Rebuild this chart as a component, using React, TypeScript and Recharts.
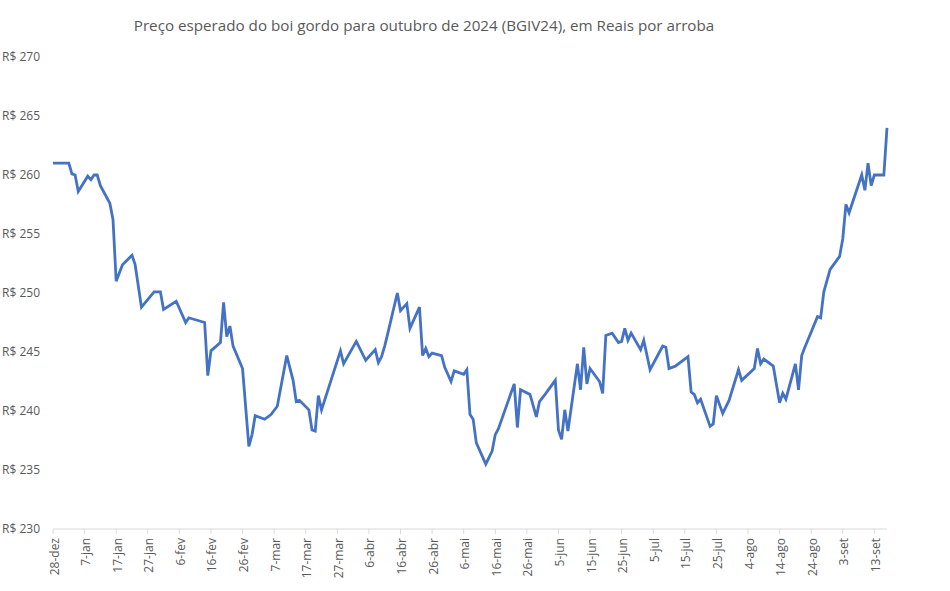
import React from "react";
import { LineChart, Line, XAxis, YAxis } from "recharts";

// Days counted from 28-dez-2023
const days = [
  0, 5, 6, 7, 8, 11, 12, 13, 14, 15, 18, 19, 20, 22, 25, 26, 28, 32, 34, 35,
  39, 42, 43, 48, 49, 50, 53, 54, 55, 56, 57, 60, 62, 63, 64, 67, 69, 71, 74, 76,
  77, 78, 81, 82, 83, 84, 85, 91, 92, 96, 99, 102, 103, 104, 105, 106, 109, 110, 112, 113,
  116, 117, 118, 119, 120, 123, 124, 126, 127, 130, 131, 132, 133, 134, 137, 139, 140, 141, 146, 147,
  148, 151, 153, 154, 156, 159, 160, 161, 162, 163, 166, 167, 168, 169, 170, 173, 174, 175, 177, 179,
  180, 181, 182, 183, 186, 187, 189, 193, 194, 195, 197, 201, 202, 203, 204, 205, 208, 209, 210, 212,
  214, 217, 218, 222, 223, 224, 225, 228, 230, 231, 232, 235, 236, 237, 238, 240, 242, 243, 244, 246,
  249, 250, 251, 252, 256, 257, 258, 259, 260, 263, 264,
];

const prices = [
  261.0, 261.0, 260.1, 260.0, 258.6, 259.9, 259.6, 260.0, 260.0, 259.1, 257.6, 256.2, 251.0, 252.4, 253.2, 252.4, 248.8, 250.1, 250.1, 248.6,
  249.3, 247.5, 247.9, 247.5, 243.0, 245.1, 245.8, 249.2, 246.3, 247.2, 245.5, 243.6, 237.0, 238.0, 239.6, 239.3, 239.7, 240.4, 244.7, 242.6,
  240.8, 240.9, 240.1, 238.4, 238.3, 241.3, 240.1, 245.1, 244.0, 245.9, 244.3, 245.2, 244.1, 244.6, 245.5, 246.6, 250.0, 248.5, 249.1, 247.0,
  248.8, 244.7, 245.3, 244.6, 244.9, 244.7, 243.7, 242.5, 243.4, 243.1, 243.5, 239.7, 239.3, 237.3, 235.5, 236.6, 238.0, 238.5, 242.3, 238.6,
  241.8, 241.4, 239.5, 240.8, 241.5, 242.6, 238.4, 237.6, 240.1, 238.3, 244.0, 241.8, 245.4, 242.3, 243.6, 242.5, 241.5, 246.4, 246.6, 245.8,
  245.9, 247.0, 246.0, 246.6, 245.2, 246.0, 243.5, 245.5, 245.4, 243.6, 243.8, 244.6, 241.6, 241.4, 240.7, 241.0, 238.7, 238.9, 241.3, 239.8,
  240.9, 243.5, 242.6, 243.6, 245.3, 244.0, 244.4, 243.8, 240.7, 241.5, 241.0, 244.0, 241.8, 244.7, 245.4, 246.7, 248.0, 247.9, 250.1, 252.0,
  253.1, 254.6, 257.5, 256.8, 260.0, 258.7, 261.0, 259.1, 260.0, 260.0, 264.0,
];

const tickDays = [0, 10, 20, 30, 40, 50, 60, 70, 80, 90, 100, 110, 120, 130, 140, 150, 160, 170, 180, 190, 200, 210, 220, 230, 240, 250, 260];
const tickLabels = [
  "28-dez", "7-jan", "17-jan", "27-jan", "6-fev", "16-fev", "26-fev", "7-mar", "17-mar", "27-mar", "6-abr", "16-abr", "26-abr", "6-mai",
  "16-mai", "26-mai", "5-jun", "15-jun", "25-jun", "5-jul", "15-jul", "25-jul", "4-ago", "14-ago", "24-ago", "3-set", "13-set",
];
const yTicks = [230, 235, 240, 245, 250, 255, 260, 265, 270];

const title = "Preço esperado do boi gordo para outubro de 2024 (BGIV24), em Reais por arroba";

const data = days.map((d, i) => ({ day: d, price: prices[i] }));

const FONT = "'Open Sans', sans-serif";
const TXT = "#595959";

const XTick = (props: any) => {
  const { x, y, payload } = props;
  const idx = tickDays.indexOf(payload.value);
  const label = idx >= 0 ? tickLabels[idx] : "";
  const tx = x + 1;
  const ty = y + 2;
  return (
    <text
      x={tx}
      y={ty}
      transform={`rotate(-90, ${tx}, ${ty})`}
      textAnchor="end"
      dominantBaseline="central"
      fill={TXT}
      fontSize={12}
      fontFamily={FONT}
    >
      {label}
    </text>
  );
};

export default function App() {
  return (
    <div style={{ position: "absolute", left: 0, top: 0, width: 950, height: 591, background: "#fff" }}>
      <div
        style={{
          position: "absolute",
          left: 0,
          top: 14,
          width: 848,
          textAlign: "center",
          fontFamily: FONT,
          fontSize: 15.2,
          lineHeight: "22px",
          color: TXT,
          whiteSpace: "nowrap",
        }}
      >
        {title}
      </div>
      <LineChart width={950} height={591} data={data} margin={{ top: 57, right: 63, bottom: 2, left: 0 }}>
        <XAxis
          type="number"
          dataKey="day"
          domain={[0, 264]}
          ticks={tickDays}
          interval={0}
          height={60}
          axisLine={{ stroke: "#d9d9d9" }}
          tickLine={{ stroke: "#d9d9d9" }}
          tickSize={5}
          tick={<XTick />}
        />
        <YAxis
          type="number"
          domain={[230, 270]}
          ticks={yTicks}
          interval={0}
          width={53}
          axisLine={false}
          tickLine={false}
          tickMargin={7}
          tickFormatter={(v: number) => `R$ ${v}`}
          tick={{ fill: TXT, fontSize: 12, fontFamily: FONT }}
        />
        <Line
          type="linear"
          dataKey="price"
          stroke="#4472C4"
          strokeWidth={2.8}
          dot={false}
          isAnimationActive={false}
        />
      </LineChart>
    </div>
  );
}
